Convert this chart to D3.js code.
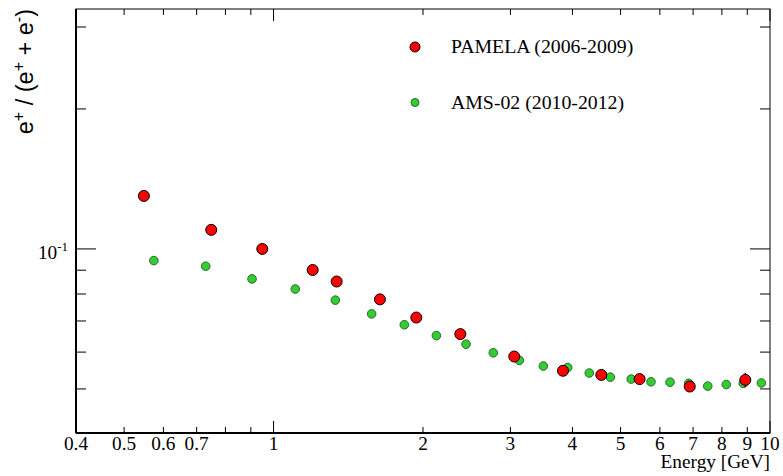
<!DOCTYPE html>
<html>
<head>
<meta charset="utf-8">
<script src="https://cdn.jsdelivr.net/npm/d3@7"></script>
<style>
  body { margin: 0; background: #fff; }
</style>
</head>
<body>
<div id="chart"></div>
<script>
// PAMELA (2006-2009)
const pamelaE = [0.548, 0.749, 0.949, 1.199, 1.340, 1.638, 1.939, 2.378, 3.054, 3.828, 4.573, 5.462, 6.892, 8.918];
const pamelaR = [0.1300, 0.1099, 0.1000, 0.0901, 0.0851, 0.0779, 0.0712, 0.0656, 0.0587, 0.0547, 0.0536, 0.0525, 0.0506, 0.0523];
const pamelaErr = [0, 0, 0, 0, 0, 0, 0, 0, 0, 0, 0, 0.0010, 0.0010, 0.0018];

// AMS-02 (2010-2012)
const amsE = [0.574, 0.730, 0.905, 1.106, 1.332, 1.576, 1.834, 2.128, 2.442, 2.771, 3.126, 3.495, 3.913, 4.325, 4.769, 5.254, 5.758, 6.290, 6.860, 7.492, 8.165, 8.834, 9.607];
const amsR = [0.0944, 0.0918, 0.0862, 0.0820, 0.0776, 0.0725, 0.0687, 0.0651, 0.0624, 0.0598, 0.0576, 0.0560, 0.0556, 0.0541, 0.0530, 0.0525, 0.0518, 0.0517, 0.0514, 0.0507, 0.0511, 0.0514, 0.0515];
const amsErr = [0.0019, 0, 0, 0, 0, 0, 0, 0, 0, 0, 0, 0, 0, 0, 0, 0, 0, 0, 0, 0, 0, 0, 0];

// axis ticks
const xTicks = [0.4, 0.5, 0.6, 0.7, 0.8, 0.9, 1, 2, 3, 4, 5, 6, 7, 8, 9, 10];
const xLabels = [0.4, 0.5, 0.6, 0.7, 1, 2, 3, 4, 5, 6, 7, 8, 9, 10];
const xMajor = [1, 10];
const yTicks = [0.05, 0.06, 0.07, 0.08, 0.09, 0.1, 0.2, 0.3];
const yMajor = [0.1];

const legendItems = [
  {label: 'PAMELA (2006-2009)', fill: '#ff0000', stroke: '#000', r: 5},
  {label: 'AMS-02 (2010-2012)', fill: '#33cc33', stroke: '#2a6a2a', r: 4}
];

const SERIF = '"Liberation Serif", "DejaVu Serif", serif';
const SANS = '"Liberation Sans", Arial, sans-serif';

const W = 783, H = 476;
const margin = {t: 9, r: 13, b: 43, l: 76};
const innerWidth = W - margin.l - margin.r;
const innerHeight = H - margin.t - margin.b;

// scales in page pixels
const scaleX = d3.scaleLog().domain([0.4, 10]).range([margin.l, margin.l + innerWidth]);
const scaleY = d3.scaleLog().domain([0.0402, 0.328]).range([margin.t + innerHeight, margin.t]);
const x0 = margin.l, x1 = margin.l + innerWidth, y0 = margin.t, y1 = margin.t + innerHeight;

const svg = d3.select('#chart').append('svg')
  .attr('width', W)
  .attr('height', H)
  .style('display', 'block');

// frame
svg.append('rect')
  .attr('x', x0).attr('y', y0)
  .attr('width', innerWidth)
  .attr('height', innerHeight)
  .style('fill', 'none')
  .style('stroke', '#000')
  .style('stroke-width', 1);

// ticks: bottom / top
const tickG = svg.append('g').style('stroke', '#000').style('stroke-width', 1);
xTicks.forEach(v => {
  const len = xMajor.includes(v) ? 12 : 6;
  const x = scaleX(v);
  tickG.append('line').attr('x1', x).attr('x2', x).attr('y1', y1).attr('y2', y1 - len);
  tickG.append('line').attr('x1', x).attr('x2', x).attr('y1', y0).attr('y2', y0 + len);
});
// ticks: left / right
yTicks.forEach(v => {
  const len = yMajor.includes(v) ? 20 : 10;
  const y = scaleY(v);
  tickG.append('line').attr('x1', x0).attr('x2', x0 + len).attr('y1', y).attr('y2', y);
  tickG.append('line').attr('x1', x1).attr('x2', x1 - len).attr('y1', y).attr('y2', y);
});

// heavier axis lines on left / bottom
svg.append('line').attr('x1', x0).attr('x2', x0).attr('y1', y0).attr('y2', y1)
  .style('stroke', '#000').style('stroke-width', 2);
svg.append('line').attr('x1', x0).attr('x2', x1).attr('y1', y1).attr('y2', y1)
  .style('stroke', '#000').style('stroke-width', 2);

// x tick labels
svg.append('g').selectAll('text')
  .data(xLabels)
  .join('text')
  .attr('x', d => scaleX(d))
  .attr('y', y1 + 17)
  .attr('text-anchor', 'middle')
  .style('font-family', SERIF)
  .style('font-size', '19.3px')
  .text(d => d);

// y tick label 10^-1
const yl = svg.append('text')
  .attr('x', x0 - 8)
  .attr('y', scaleY(0.1) + 10)
  .attr('text-anchor', 'end')
  .style('font-family', SERIF)
  .style('font-size', '19.3px');
yl.append('tspan').text('10');
yl.append('tspan').attr('dy', -8).style('font-size', '13px').text('-1');

// axis titles
svg.append('text')
  .attr('x', x1)
  .attr('y', 468)
  .attr('text-anchor', 'end')
  .style('font-family', SERIF)
  .style('font-size', '19.3px')
  .text('Energy [GeV]');

const yt = svg.append('text')
  .attr('transform', 'translate(33, 9) rotate(-90)')
  .attr('text-anchor', 'end')
  .style('font-family', SANS)
  .style('font-size', '23.5px');
yt.append('tspan').text('e');
yt.append('tspan').attr('dy', -9).style('font-size', '16px').text('+');
yt.append('tspan').attr('dy', 9).text(' / (e');
yt.append('tspan').attr('dy', -9).style('font-size', '16px').text('+');
yt.append('tspan').attr('dy', 9).text(' + e');
yt.append('tspan').attr('dy', -9).style('font-size', '16px').text('-');
yt.append('tspan').attr('dy', 9).text(')');

// data series
function drawSeries(xs, ys, errs, fill, stroke, r) {
  const pts = xs.map((x, i) => ({x, y: ys[i], e: errs[i]}));
  const g = svg.append('g');
  g.selectAll('line.err')
    .data(pts.filter(d => d.e > 0))
    .join('line')
    .attr('class', 'err')
    .attr('x1', d => scaleX(d.x))
    .attr('x2', d => scaleX(d.x))
    .attr('y1', d => scaleY(d.y - d.e))
    .attr('y2', d => scaleY(d.y + d.e))
    .style('stroke', '#000')
    .style('stroke-width', 1.5);
  g.selectAll('circle')
    .data(pts)
    .join('circle')
    .attr('cx', d => scaleX(d.x))
    .attr('cy', d => scaleY(d.y))
    .attr('r', r)
    .style('fill', fill)
    .style('stroke', stroke)
    .style('stroke-width', 1);
}

drawSeries(amsE, amsR, amsErr, '#33cc33', '#2a6a2a', 4.3);
drawSeries(pamelaE, pamelaR, pamelaErr, '#ff0000', '#000', 5.5);

// legend
const legend = svg.append('g');
legendItems.forEach((d, i) => {
  const y = 47 + i * 55.5;
  legend.append('circle')
    .attr('cx', 415).attr('cy', y).attr('r', d.r)
    .style('fill', d.fill).style('stroke', d.stroke).style('stroke-width', 1);
  legend.append('text')
    .attr('x', 451).attr('y', y + 6)
    .style('font-family', SERIF)
    .style('font-size', '19.8px')
    .text(d.label);
});
</script>
</body>
</html>
